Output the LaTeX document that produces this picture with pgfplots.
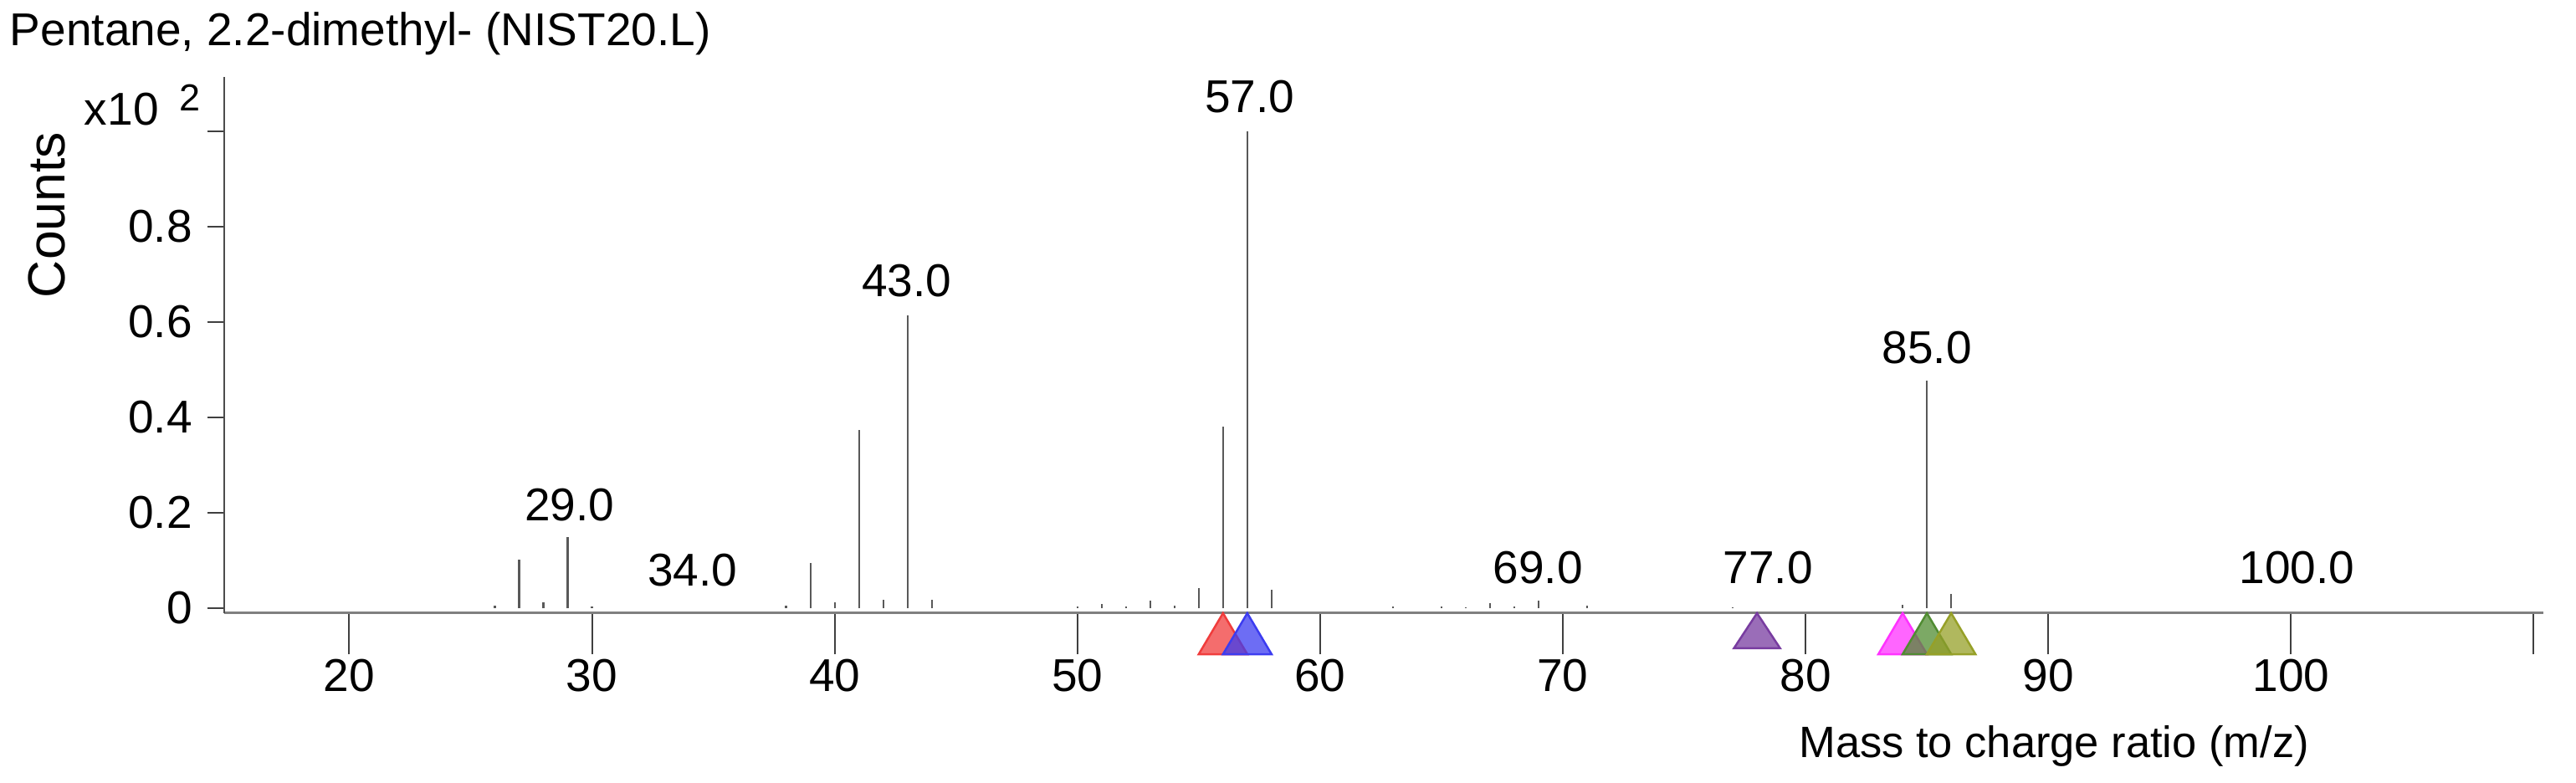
\documentclass[border=0pt]{standalone}
\usepackage{fontspec}
\setmainfont{Liberation Sans}
\usepackage{pgfplots}
\pgfplotsset{compat=1.18}

\definecolor{trired}{RGB}{240,60,60}
\definecolor{triblue}{RGB}{60,60,240}
\definecolor{tripurple}{RGB}{120,60,160}
\definecolor{trimagenta}{RGB}{255,50,255}
\definecolor{trigreen}{RGB}{80,140,50}
\definecolor{triolive}{RGB}{150,160,40}
\newcommand{\lblfont}{\fontsize{11}{13}\selectfont}

\begin{document}
\begin{tikzpicture}
\begin{axis}[
    scale only axis,
    width=554.4pt, height=128.2pt,
    xmin=14.85, xmax=110.4,
    ymin=-0.0105, ymax=1.114,
    axis x line*=bottom, axis y line*=left,
    x axis line style={draw=black!50, line width=0.6pt},
    y axis line style={draw=black!70, line width=0.4pt},
    xtick={20,30,...,110},
    xticklabels={20,30,40,50,60,70,80,90,100,{}},
    ytick={0,0.2,0.4,0.6,0.8,1.0},
    yticklabels={0,0.2,0.4,0.6,0.8,{}},
    tick align=outside,
    x tick style={draw=black!75, line width=0.4pt, /pgfplots/major tick length=9.8pt},
    y tick style={draw=black!75, line width=0.4pt, /pgfplots/major tick length=4pt},
    tick label style={font=\lblfont},
    xticklabel style={anchor=north, inner sep=0pt, yshift=-6.6pt},
    yticklabel style={anchor=east, inner sep=0pt, xshift=-3.2pt},
    clip=false,
    title={Pentane, 2.2-dimethyl- (NIST20.L)},
    every axis title/.style={at={([xshift=-51.4pt,yshift=135.6pt]axis description cs:0,0)},
        anchor=base west, inner sep=0pt, font=\lblfont},
    xlabel={Mass to charge ratio (m/z)},
    every axis x label/.style={at={([yshift=-34.4pt]axis description cs:0.789,0)},
        anchor=base, inner sep=0pt, font=\fontsize{10.5}{12}\selectfont},
    ylabel={Counts},
    every axis y label/.style={at={([xshift=-42.4pt,yshift=95.2pt]axis description cs:0,0)},
        rotate=90, anchor=center, inner sep=0pt, font=\fontsize{12.5}{14}\selectfont},
]

% spectrum
\addplot[ycomb, mark=none, draw=black!65, line width=0.45pt] coordinates {
    (26,0.005) (27,0.102) (28,0.013) (29,0.150) (30,0.003)
    (38,0.005) (39,0.095) (40,0.013) (41,0.374) (42,0.018) (43,0.614) (44,0.018)
    (50,0.003) (51,0.008) (52,0.004) (53,0.016) (54,0.005) (55,0.042) (56,0.380)
    (57,1.000) (58,0.038)
    (63,0.003) (65,0.004) (66,0.002) (67,0.010) (68,0.004) (69,0.016) (71,0.006)
    (77,0.002) (84,0.007) (85,0.477) (86,0.030)
};

% peak labels
\node[anchor=base, font=\lblfont] at (axis cs:29.07,0.184) {29.0};
\node[anchor=base, font=\lblfont] at (axis cs:34.14,0.047) {34.0};
\node[anchor=base, font=\lblfont] at (axis cs:42.97,0.653) {43.0};
\node[anchor=base, font=\lblfont] at (axis cs:57.10,1.039) {57.0};
\node[anchor=base, font=\lblfont] at (axis cs:68.97,0.052) {69.0};
\node[anchor=base, font=\lblfont] at (axis cs:78.45,0.052) {77.0};
\node[anchor=base, font=\lblfont] at (axis cs:85.00,0.514) {85.0};
\node[anchor=base, font=\lblfont] at (axis cs:100.24,0.052) {100.0};

% multiplier
\node[anchor=base west, inner sep=0pt, font=\lblfont]
    at ([xshift=-33.6pt,yshift=116.6pt]axis description cs:0,0)
    {x10\hspace{5pt}\raisebox{3.4pt}{\fontsize{9}{10}\selectfont 2}};

% markers below the axis
\addplot[draw=trired, fill=trired, fill opacity=0.75, line width=0.5pt, mark=none]
    coordinates {(55,-0.0965) (56,-0.0105) (57,-0.0965)} -- cycle;
\addplot[draw=triblue, fill=triblue, fill opacity=0.75, line width=0.5pt, mark=none]
    coordinates {(56,-0.0965) (57,-0.0105) (58,-0.0965)} -- cycle;
\addplot[draw=tripurple, fill=tripurple, fill opacity=0.75, line width=0.5pt, mark=none]
    coordinates {(77.05,-0.084) (78,-0.0105) (78.95,-0.084)} -- cycle;
\addplot[draw=trimagenta, fill=trimagenta, fill opacity=0.75, line width=0.5pt, mark=none]
    coordinates {(83,-0.0965) (84,-0.0105) (85,-0.0965)} -- cycle;
\addplot[draw=trigreen, fill=trigreen, fill opacity=0.75, line width=0.5pt, mark=none]
    coordinates {(84,-0.0965) (85,-0.0105) (86,-0.0965)} -- cycle;
\addplot[draw=triolive, fill=triolive, fill opacity=0.75, line width=0.5pt, mark=none]
    coordinates {(85,-0.0965) (86,-0.0105) (87,-0.0965)} -- cycle;
\end{axis}
\pgfresetboundingbox
\path (-53.6pt,-40.6pt) rectangle (562.2pt,146.6pt);
\end{tikzpicture}
\end{document}
